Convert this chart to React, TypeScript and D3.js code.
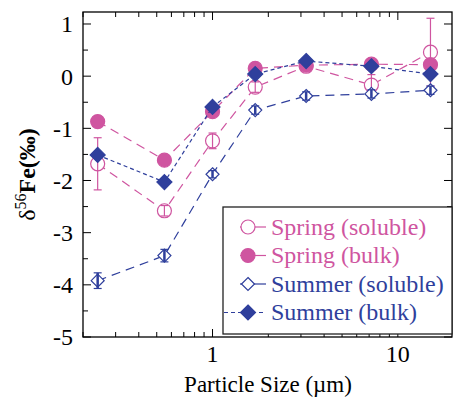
import React from 'react';
import * as d3 from 'd3';

// particle size (µm) for each stage
const sizes = [0.24, 0.55, 1.0, 1.7, 3.2, 7.2, 15];

const springSoluble = [-1.68, -2.58, -1.24, -0.21, 0.19, -0.17, 0.46];
const springSolubleErr = [0.5, 0.1, 0.15, 0.1, 0.08, 0.2, 0.65];
const springBulk = [-0.87, -1.61, -0.68, 0.15, 0.21, 0.23, 0.22];
const springBulkErr = [0.1, 0.05, 0.05, 0.05, 0.05, 0.05, 0.05];
const summerSoluble = [-3.92, -3.44, -1.88, -0.65, -0.38, -0.34, -0.27];
const summerSolubleErr = [0.15, 0.12, 0.07, 0.08, 0.08, 0.08, 0.08];
const summerBulk = [-1.51, -2.03, -0.59, 0.04, 0.29, 0.19, 0.04];
const summerBulkErr = [0.05, 0.05, 0.05, 0.05, 0.05, 0.05, 0.05];

const yTicks = [1, 0, -1, -2, -3, -4, -5];
const yMinorTicks = [0.5, -0.5, -1.5, -2.5, -3.5, -4.5];
const xTicks = [1, 10];
const xMinorTicks = [0.2, 0.3, 0.4, 0.5, 0.6, 0.7, 0.8, 0.9, 2, 3, 4, 5, 6, 7, 8, 9];

const PINK = '#cf55a0';
const BLUE = '#2f3f9c';
const FONT = 'Liberation Serif';

interface Series {
  name: string;
  values: number[];
  errs: number[];
  color: string;
  marker: 'circle' | 'diamond';
  filled: boolean;
  dash: string;
}

const series: Series[] = [
  { name: 'Spring (soluble)', values: springSoluble, errs: springSolubleErr, color: PINK, marker: 'circle', filled: false, dash: '9,6' },
  { name: 'Spring (bulk)', values: springBulk, errs: springBulkErr, color: PINK, marker: 'circle', filled: true, dash: '9,6' },
  { name: 'Summer (soluble)', values: summerSoluble, errs: summerSolubleErr, color: BLUE, marker: 'diamond', filled: false, dash: '9,6' },
  { name: 'Summer (bulk)', values: summerBulk, errs: summerBulkErr, color: BLUE, marker: 'diamond', filled: true, dash: '4,3' },
];

const left = 83, right = 452, top = 12, bottom = 337;
const x = d3.scaleLog().domain([0.2, 19.6]).range([left, right]);
const y = d3.scaleLinear().domain([-5, 1.23]).range([bottom, top]);

const Marker: React.FC<{ s: Series; cx: number; cy: number }> = ({ s, cx, cy }) => {
  const fill = s.filled ? s.color : '#fff';
  if (s.marker === 'circle') {
    return <circle cx={cx} cy={cy} r={7} fill={fill} stroke={s.color} strokeWidth={1.2} />;
  }
  const r = s.filled ? 7.5 : 6.5;
  return (
    <path d={`M${cx},${cy - r}L${cx + r},${cy}L${cx},${cy + r}L${cx - r},${cy}Z`}
      fill={fill} stroke={s.color} strokeWidth={1.2} />
  );
};

const ErrorBars: React.FC<{ s: Series }> = ({ s }) => (
  <g>
    {s.values.map((v, i) => {
      const cx = x(sizes[i]);
      const lo = y(v - s.errs[i]);
      const hi = y(v + s.errs[i]);
      const w = !s.filled && s.marker === 'diamond' ? 2.5 : 1.2;
      return (
        <g key={i} stroke={s.color}>
          <line x1={cx} x2={cx} y1={lo} y2={hi} strokeWidth={w} />
          <line x1={cx - 4} x2={cx + 4} y1={lo} y2={lo} strokeWidth={1.2} />
          <line x1={cx - 4} x2={cx + 4} y1={hi} y2={hi} strokeWidth={1.2} />
        </g>
      );
    })}
  </g>
);

const line = d3.line<number>()
  .x((_, i) => x(sizes[i]))
  .y(d => y(d));

const App: React.FC = () => {
  return (
    <div style={{ position: 'absolute', left: 0, top: 0 }}>
      <svg width={454} height={399}>
        {/* frame */}
        <rect x={left} y={top} width={right - left} height={bottom - top}
          fill="none" stroke="#000" strokeWidth={1.3} />

        {/* y ticks, both sides, inward */}
        {yTicks.map(t => (
          <g key={`y${t}`}>
            <line x1={left} x2={left + 8} y1={y(t)} y2={y(t)} stroke="#000" />
            <line x1={right} x2={right - 8} y1={y(t)} y2={y(t)} stroke="#000" />
            <text x={left - 10} y={y(t)} dy="0.35em" textAnchor="end"
              style={{ fontFamily: FONT, fontSize: 24 }}>{t}</text>
          </g>
        ))}
        {yMinorTicks.map(t => (
          <g key={`ym${t}`}>
            <line x1={left} x2={left + 5} y1={y(t)} y2={y(t)} stroke="#000" />
            <line x1={right} x2={right - 5} y1={y(t)} y2={y(t)} stroke="#000" />
          </g>
        ))}

        {/* x ticks, log, top and bottom */}
        {xMinorTicks.map(t => (
          <g key={`xm${t}`}>
            <line x1={x(t)} x2={x(t)} y1={bottom} y2={bottom - 5} stroke="#000" />
            <line x1={x(t)} x2={x(t)} y1={top} y2={top + 5} stroke="#000" />
          </g>
        ))}
        {xTicks.map(t => (
          <g key={`x${t}`}>
            <line x1={x(t)} x2={x(t)} y1={bottom} y2={bottom - 8} stroke="#000" />
            <line x1={x(t)} x2={x(t)} y1={top} y2={top + 8} stroke="#000" />
            <text x={x(t)} y={362} textAnchor="middle"
              style={{ fontFamily: FONT, fontSize: 24 }}>{t}</text>
          </g>
        ))}

        {/* axis titles */}
        <text x={268} y={392} textAnchor="middle" style={{ fontFamily: FONT, fontSize: 23 }}>
          Particle Size (µm)
        </text>
        <text transform={`translate(35, ${(top + bottom) / 2}) rotate(-90)`} textAnchor="middle"
          style={{ fontFamily: FONT, fontSize: 24 }}>
          <tspan>δ</tspan>
          <tspan dy={-9} style={{ fontSize: 16 }}>56</tspan>
          <tspan dy={9} style={{ fontWeight: 'bold' }}>Fe(‰)</tspan>
        </text>

        {/* series */}
        {series.map(s => (
          <g key={s.name}>
            <path d={line(s.values) ?? ''} fill="none" stroke={s.color}
              strokeWidth={1.2} strokeDasharray={s.dash} />
            {s.filled && <ErrorBars s={s} />}
            {s.values.map((v, i) => <Marker key={i} s={s} cx={x(sizes[i])} cy={y(v)} />)}
            {!s.filled && <ErrorBars s={s} />}
          </g>
        ))}

        {/* legend */}
        <rect x={223} y={207} width={229} height={127} fill="#fff" stroke="#222" strokeWidth={1.3} />
        {series.map((s, i) => {
          const cy = 227 + i * 28.5;
          const shortDash = s.dash === '4,3';
          return (
            <g key={`lg${s.name}`}>
              <line x1={shortDash ? 224 : 240} x2={266} y1={cy} y2={cy}
                stroke={s.color} strokeWidth={1.2} strokeDasharray={shortDash ? '4,3' : undefined} />
              <Marker s={s} cx={248} cy={cy} />
              <text x={271} y={cy} dy="0.33em" fill={s.color}
                style={{ fontFamily: FONT, fontSize: 24 }}>{s.name}</text>
            </g>
          );
        })}
      </svg>
    </div>
  );
};

export default App;
